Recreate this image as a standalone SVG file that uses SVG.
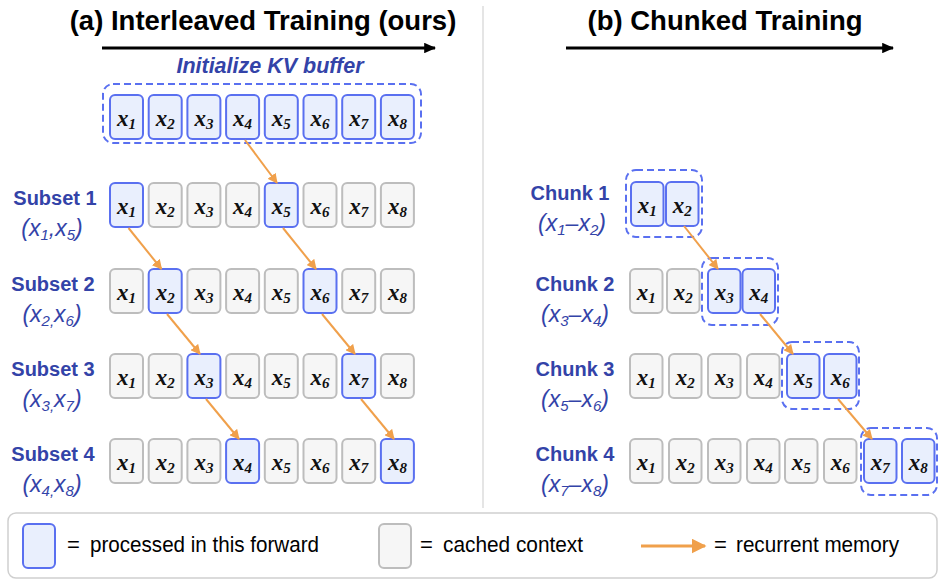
<svg xmlns="http://www.w3.org/2000/svg" width="944" height="586" viewBox="0 0 944 586">
<defs>
<style>
.p{fill:#e9effd;stroke:#5a70f0;stroke-width:2}
.c{fill:#f6f6f6;stroke:#bdbdbd;stroke-width:2}
.t{font-family:"Liberation Serif",serif;font-style:italic;font-weight:bold;font-size:23px;text-anchor:middle;fill:#111}
.s{font-size:15px}
.lab{font-family:"Liberation Sans",Arial,sans-serif;font-weight:bold;font-size:20px;fill:#3343a8;text-anchor:middle}
.sub{font-family:"Liberation Sans",Arial,sans-serif;font-style:italic;font-size:23px;fill:#3343a8;text-anchor:middle}
.ss{font-size:15px}
.dash{fill:none;stroke:#5a70f0;stroke-width:2;stroke-dasharray:7 4}
.arr{stroke:#f0a04b;stroke-width:2;fill:none;marker-end:url(#oh)}
.blk{stroke:#000;stroke-width:3;fill:none;marker-end:url(#bh)}
.title{font-family:"Liberation Sans",Arial,sans-serif;font-weight:bold;font-size:27.5px;fill:#000;text-anchor:middle}
.leg{font-family:"Liberation Sans",Arial,sans-serif;font-size:22px;fill:#000}
</style>
<marker id="oh" viewBox="0 0 10 10" refX="9" refY="5" markerWidth="5" markerHeight="5" orient="auto" markerUnits="strokeWidth"><path d="M0,0 L10,5 L0,10 z" fill="#f0a04b"/></marker>
<marker id="bh" viewBox="0 0 10 10" refX="9" refY="5" markerWidth="4" markerHeight="3.5" orient="auto" markerUnits="strokeWidth" preserveAspectRatio="none"><path d="M0,0 L10,5 L0,10 z" fill="#000"/></marker>
</defs>
<rect width="944" height="586" fill="#fff"/>
<line x1="483" y1="6" x2="483" y2="508" stroke="#dcdcdc" stroke-width="1.5"/>

<g id="titles">
<text class="title" x="263" y="30">(a) Interleaved Training (ours)</text>
<text class="title" x="725" y="30">(b) Chunked Training</text>
<text x="270" y="73" style="font-family:'Liberation Sans',Arial,sans-serif;font-weight:bold;font-style:italic;font-size:21.5px;fill:#3343a8;text-anchor:middle">Initialize KV buffer</text>
</g>

<g id="labels">
<text class="lab" x="55" y="205">Subset 1</text>
<text class="sub" x="52" y="236">(x<tspan class="ss" dy="4">1</tspan><tspan dy="-4">,x</tspan><tspan class="ss" dy="4">5</tspan><tspan dy="-4">)</tspan></text>
<text class="lab" x="53" y="291">Subset 2</text>
<text class="sub" x="52" y="322">(x<tspan class="ss" dy="4">2,</tspan><tspan dy="-4">x</tspan><tspan class="ss" dy="4">6</tspan><tspan dy="-4">)</tspan></text>
<text class="lab" x="53" y="376">Subset 3</text>
<text class="sub" x="52" y="407">(x<tspan class="ss" dy="4">3,</tspan><tspan dy="-4">x</tspan><tspan class="ss" dy="4">7</tspan><tspan dy="-4">)</tspan></text>
<text class="lab" x="53" y="461">Subset 4</text>
<text class="sub" x="52" y="492">(x<tspan class="ss" dy="4">4,</tspan><tspan dy="-4">x</tspan><tspan class="ss" dy="4">8</tspan><tspan dy="-4">)</tspan></text>
<text class="lab" x="570" y="200">Chunk 1</text>
<text class="sub" x="572" y="231">(x<tspan class="ss" dy="4">1</tspan><tspan dy="-4">–x</tspan><tspan class="ss" dy="4">2</tspan><tspan dy="-4">)</tspan></text>
<text class="lab" x="575" y="291">Chunk 2</text>
<text class="sub" x="575" y="322">(x<tspan class="ss" dy="4">3</tspan><tspan dy="-4">–x</tspan><tspan class="ss" dy="4">4</tspan><tspan dy="-4">)</tspan></text>
<text class="lab" x="575" y="376">Chunk 3</text>
<text class="sub" x="575" y="407">(x<tspan class="ss" dy="4">5</tspan><tspan dy="-4">–x</tspan><tspan class="ss" dy="4">6</tspan><tspan dy="-4">)</tspan></text>
<text class="lab" x="575" y="461">Chunk 4</text>
<text class="sub" x="575" y="492">(x<tspan class="ss" dy="4">7</tspan><tspan dy="-4">–x</tspan><tspan class="ss" dy="4">8</tspan><tspan dy="-4">)</tspan></text>
</g>

<g id="groups">
<rect id="kv-buffer" class="dash" x="103" y="84" width="318" height="59" rx="10"/>
<rect id="chunk1-group" class="dash" x="626" y="170" width="76" height="67" rx="10"/>
<rect id="chunk2-group" class="dash" x="702" y="258" width="76" height="67" rx="10"/>
<rect id="chunk3-group" class="dash" x="782" y="342" width="77" height="67" rx="10"/>
<rect id="chunk4-group" class="dash" x="861" y="428" width="76" height="67" rx="10"/>
</g>

<g id="kv-row">
<g id="kv-x1"><rect class="p" x="110" y="95" width="33" height="44" rx="5"/><text class="t" x="126.5" y="126">x<tspan class="s" dy="3">1</tspan></text></g>
<g id="kv-x2"><rect class="p" x="148.7" y="95" width="33" height="44" rx="5"/><text class="t" x="165.2" y="126">x<tspan class="s" dy="3">2</tspan></text></g>
<g id="kv-x3"><rect class="p" x="187.4" y="95" width="33" height="44" rx="5"/><text class="t" x="203.9" y="126">x<tspan class="s" dy="3">3</tspan></text></g>
<g id="kv-x4"><rect class="p" x="226.1" y="95" width="33" height="44" rx="5"/><text class="t" x="242.6" y="126">x<tspan class="s" dy="3">4</tspan></text></g>
<g id="kv-x5"><rect class="p" x="264.8" y="95" width="33" height="44" rx="5"/><text class="t" x="281.3" y="126">x<tspan class="s" dy="3">5</tspan></text></g>
<g id="kv-x6"><rect class="p" x="303.5" y="95" width="33" height="44" rx="5"/><text class="t" x="320" y="126">x<tspan class="s" dy="3">6</tspan></text></g>
<g id="kv-x7"><rect class="p" x="342.2" y="95" width="33" height="44" rx="5"/><text class="t" x="358.7" y="126">x<tspan class="s" dy="3">7</tspan></text></g>
<g id="kv-x8"><rect class="p" x="380.9" y="95" width="33" height="44" rx="5"/><text class="t" x="397.4" y="126">x<tspan class="s" dy="3">8</tspan></text></g>
</g>

<g id="subset1">
<g id="s1-x1"><rect class="p" x="110" y="183" width="33" height="44" rx="5"/><text class="t" x="126.5" y="214">x<tspan class="s" dy="3">1</tspan></text></g>
<g id="s1-x2"><rect class="c" x="148.7" y="183" width="33" height="44" rx="5"/><text class="t" x="165.2" y="214">x<tspan class="s" dy="3">2</tspan></text></g>
<g id="s1-x3"><rect class="c" x="187.4" y="183" width="33" height="44" rx="5"/><text class="t" x="203.9" y="214">x<tspan class="s" dy="3">3</tspan></text></g>
<g id="s1-x4"><rect class="c" x="226.1" y="183" width="33" height="44" rx="5"/><text class="t" x="242.6" y="214">x<tspan class="s" dy="3">4</tspan></text></g>
<g id="s1-x5"><rect class="p" x="264.8" y="183" width="33" height="44" rx="5"/><text class="t" x="281.3" y="214">x<tspan class="s" dy="3">5</tspan></text></g>
<g id="s1-x6"><rect class="c" x="303.5" y="183" width="33" height="44" rx="5"/><text class="t" x="320" y="214">x<tspan class="s" dy="3">6</tspan></text></g>
<g id="s1-x7"><rect class="c" x="342.2" y="183" width="33" height="44" rx="5"/><text class="t" x="358.7" y="214">x<tspan class="s" dy="3">7</tspan></text></g>
<g id="s1-x8"><rect class="c" x="380.9" y="183" width="33" height="44" rx="5"/><text class="t" x="397.4" y="214">x<tspan class="s" dy="3">8</tspan></text></g>
</g>

<g id="subset2">
<g id="s2-x1"><rect class="c" x="110" y="269" width="33" height="44" rx="5"/><text class="t" x="126.5" y="300">x<tspan class="s" dy="3">1</tspan></text></g>
<g id="s2-x2"><rect class="p" x="148.7" y="269" width="33" height="44" rx="5"/><text class="t" x="165.2" y="300">x<tspan class="s" dy="3">2</tspan></text></g>
<g id="s2-x3"><rect class="c" x="187.4" y="269" width="33" height="44" rx="5"/><text class="t" x="203.9" y="300">x<tspan class="s" dy="3">3</tspan></text></g>
<g id="s2-x4"><rect class="c" x="226.1" y="269" width="33" height="44" rx="5"/><text class="t" x="242.6" y="300">x<tspan class="s" dy="3">4</tspan></text></g>
<g id="s2-x5"><rect class="c" x="264.8" y="269" width="33" height="44" rx="5"/><text class="t" x="281.3" y="300">x<tspan class="s" dy="3">5</tspan></text></g>
<g id="s2-x6"><rect class="p" x="303.5" y="269" width="33" height="44" rx="5"/><text class="t" x="320" y="300">x<tspan class="s" dy="3">6</tspan></text></g>
<g id="s2-x7"><rect class="c" x="342.2" y="269" width="33" height="44" rx="5"/><text class="t" x="358.7" y="300">x<tspan class="s" dy="3">7</tspan></text></g>
<g id="s2-x8"><rect class="c" x="380.9" y="269" width="33" height="44" rx="5"/><text class="t" x="397.4" y="300">x<tspan class="s" dy="3">8</tspan></text></g>
</g>

<g id="subset3">
<g id="s3-x1"><rect class="c" x="110" y="354" width="33" height="44" rx="5"/><text class="t" x="126.5" y="385">x<tspan class="s" dy="3">1</tspan></text></g>
<g id="s3-x2"><rect class="c" x="148.7" y="354" width="33" height="44" rx="5"/><text class="t" x="165.2" y="385">x<tspan class="s" dy="3">2</tspan></text></g>
<g id="s3-x3"><rect class="p" x="187.4" y="354" width="33" height="44" rx="5"/><text class="t" x="203.9" y="385">x<tspan class="s" dy="3">3</tspan></text></g>
<g id="s3-x4"><rect class="c" x="226.1" y="354" width="33" height="44" rx="5"/><text class="t" x="242.6" y="385">x<tspan class="s" dy="3">4</tspan></text></g>
<g id="s3-x5"><rect class="c" x="264.8" y="354" width="33" height="44" rx="5"/><text class="t" x="281.3" y="385">x<tspan class="s" dy="3">5</tspan></text></g>
<g id="s3-x6"><rect class="c" x="303.5" y="354" width="33" height="44" rx="5"/><text class="t" x="320" y="385">x<tspan class="s" dy="3">6</tspan></text></g>
<g id="s3-x7"><rect class="p" x="342.2" y="354" width="33" height="44" rx="5"/><text class="t" x="358.7" y="385">x<tspan class="s" dy="3">7</tspan></text></g>
<g id="s3-x8"><rect class="c" x="380.9" y="354" width="33" height="44" rx="5"/><text class="t" x="397.4" y="385">x<tspan class="s" dy="3">8</tspan></text></g>
</g>

<g id="subset4">
<g id="s4-x1"><rect class="c" x="110" y="439" width="33" height="44" rx="5"/><text class="t" x="126.5" y="470">x<tspan class="s" dy="3">1</tspan></text></g>
<g id="s4-x2"><rect class="c" x="148.7" y="439" width="33" height="44" rx="5"/><text class="t" x="165.2" y="470">x<tspan class="s" dy="3">2</tspan></text></g>
<g id="s4-x3"><rect class="c" x="187.4" y="439" width="33" height="44" rx="5"/><text class="t" x="203.9" y="470">x<tspan class="s" dy="3">3</tspan></text></g>
<g id="s4-x4"><rect class="p" x="226.1" y="439" width="33" height="44" rx="5"/><text class="t" x="242.6" y="470">x<tspan class="s" dy="3">4</tspan></text></g>
<g id="s4-x5"><rect class="c" x="264.8" y="439" width="33" height="44" rx="5"/><text class="t" x="281.3" y="470">x<tspan class="s" dy="3">5</tspan></text></g>
<g id="s4-x6"><rect class="c" x="303.5" y="439" width="33" height="44" rx="5"/><text class="t" x="320" y="470">x<tspan class="s" dy="3">6</tspan></text></g>
<g id="s4-x7"><rect class="c" x="342.2" y="439" width="33" height="44" rx="5"/><text class="t" x="358.7" y="470">x<tspan class="s" dy="3">7</tspan></text></g>
<g id="s4-x8"><rect class="p" x="380.9" y="439" width="33" height="44" rx="5"/><text class="t" x="397.4" y="470">x<tspan class="s" dy="3">8</tspan></text></g>
</g>

<g id="chunk1">
<g id="c1-x1"><rect class="p" x="631" y="182" width="32.5" height="44" rx="5"/><text class="t" x="647.2" y="213">x<tspan class="s" dy="3">1</tspan></text></g>
<g id="c1-x2"><rect class="p" x="666" y="182" width="32.5" height="44" rx="5"/><text class="t" x="682.2" y="213">x<tspan class="s" dy="3">2</tspan></text></g>
</g>

<g id="chunk2">
<g id="c2-x1"><rect class="c" x="630" y="269" width="32.5" height="44" rx="5"/><text class="t" x="646.2" y="300">x<tspan class="s" dy="3">1</tspan></text></g>
<g id="c2-x2"><rect class="c" x="667" y="269" width="32.5" height="44" rx="5"/><text class="t" x="683.2" y="300">x<tspan class="s" dy="3">2</tspan></text></g>
<g id="c2-x3"><rect class="p" x="708" y="269" width="32.5" height="44" rx="5"/><text class="t" x="724.2" y="300">x<tspan class="s" dy="3">3</tspan></text></g>
<g id="c2-x4"><rect class="p" x="742.5" y="269" width="32.5" height="44" rx="5"/><text class="t" x="758.7" y="300">x<tspan class="s" dy="3">4</tspan></text></g>
</g>

<g id="chunk3">
<g id="c3-x1"><rect class="c" x="630" y="354" width="32.5" height="44" rx="5"/><text class="t" x="646.2" y="385">x<tspan class="s" dy="3">1</tspan></text></g>
<g id="c3-x2"><rect class="c" x="669" y="354" width="32.5" height="44" rx="5"/><text class="t" x="685.2" y="385">x<tspan class="s" dy="3">2</tspan></text></g>
<g id="c3-x3"><rect class="c" x="708" y="354" width="32.5" height="44" rx="5"/><text class="t" x="724.2" y="385">x<tspan class="s" dy="3">3</tspan></text></g>
<g id="c3-x4"><rect class="c" x="747" y="354" width="32.5" height="44" rx="5"/><text class="t" x="763.2" y="385">x<tspan class="s" dy="3">4</tspan></text></g>
<g id="c3-x5"><rect class="p" x="787" y="354" width="32.5" height="44" rx="5"/><text class="t" x="803.2" y="385">x<tspan class="s" dy="3">5</tspan></text></g>
<g id="c3-x6"><rect class="p" x="824" y="354" width="32.5" height="44" rx="5"/><text class="t" x="840.2" y="385">x<tspan class="s" dy="3">6</tspan></text></g>
</g>

<g id="chunk4">
<g id="c4-x1"><rect class="c" x="630" y="439" width="32.5" height="44" rx="5"/><text class="t" x="646.2" y="470">x<tspan class="s" dy="3">1</tspan></text></g>
<g id="c4-x2"><rect class="c" x="669" y="439" width="32.5" height="44" rx="5"/><text class="t" x="685.2" y="470">x<tspan class="s" dy="3">2</tspan></text></g>
<g id="c4-x3"><rect class="c" x="708" y="439" width="32.5" height="44" rx="5"/><text class="t" x="724.2" y="470">x<tspan class="s" dy="3">3</tspan></text></g>
<g id="c4-x4"><rect class="c" x="747" y="439" width="32.5" height="44" rx="5"/><text class="t" x="763.2" y="470">x<tspan class="s" dy="3">4</tspan></text></g>
<g id="c4-x5"><rect class="c" x="785" y="439" width="32.5" height="44" rx="5"/><text class="t" x="801.2" y="470">x<tspan class="s" dy="3">5</tspan></text></g>
<g id="c4-x6"><rect class="c" x="824" y="439" width="32.5" height="44" rx="5"/><text class="t" x="840.2" y="470">x<tspan class="s" dy="3">6</tspan></text></g>
<g id="c4-x7"><rect class="p" x="864" y="439" width="32.5" height="44" rx="5"/><text class="t" x="880.2" y="470">x<tspan class="s" dy="3">7</tspan></text></g>
<g id="c4-x8"><rect class="p" x="902" y="439" width="32.5" height="44" rx="5"/><text class="t" x="918.2" y="470">x<tspan class="s" dy="3">8</tspan></text></g>
</g>

<g id="connectors">
<line class="blk" x1="102" y1="48" x2="435" y2="48"/>
<line class="blk" x1="566" y1="48" x2="893" y2="48"/>
<line class="arr" x1="245" y1="140" x2="277" y2="183"/>
<line class="arr" x1="128.5" y1="228" x2="161.5" y2="269"/>
<line class="arr" x1="283" y1="228" x2="316" y2="269"/>
<line class="arr" x1="167" y1="314" x2="200" y2="354"/>
<line class="arr" x1="322" y1="314" x2="355" y2="354"/>
<line class="arr" x1="206" y1="399" x2="239" y2="439"/>
<line class="arr" x1="361" y1="399" x2="394" y2="439"/>
<line class="arr" x1="684" y1="226" x2="718" y2="269"/>
<line class="arr" x1="760" y1="314" x2="793" y2="354"/>
<line class="arr" x1="838" y1="399" x2="872" y2="439"/>
</g>

<g id="legend">
<rect x="8" y="513" width="929" height="65" rx="8" fill="#fff" stroke="#cfcfcf" stroke-width="1.5"/>
<rect class="p" x="23" y="524" width="32" height="44" rx="5"/>
<text class="leg" x="67" y="552">=</text>
<text class="leg" x="90" y="552" textLength="229" lengthAdjust="spacingAndGlyphs">processed in this forward</text>
<rect class="c" x="379" y="524" width="32" height="44" rx="5"/>
<text class="leg" x="420" y="552">=</text>
<text class="leg" x="443" y="552" textLength="140" lengthAdjust="spacingAndGlyphs">cached context</text>
<line class="arr" x1="641" y1="546" x2="705" y2="546" style="stroke-width:3"/>
<text class="leg" x="714" y="552">=</text>
<text class="leg" x="736" y="552" textLength="163" lengthAdjust="spacingAndGlyphs">recurrent memory</text>
</g>
</svg>
